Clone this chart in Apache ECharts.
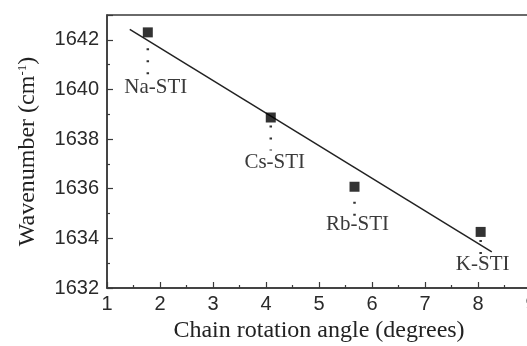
<!DOCTYPE html>
<html>
<head>
<meta charset="utf-8">
<script src="https://cdn.jsdelivr.net/npm/echarts@6/dist/echarts.min.js"></script>
<style>
  html, body { margin: 0; padding: 0; background: #fff; }
  #chart { width: 527px; height: 346px; }
</style>
</head>
<body>
<div id="chart"></div>
<script>
// measured points
const samples = ['Na-STI', 'Cs-STI', 'Rb-STI', 'K-STI']
const angle = [1.77, 4.09, 5.67, 8.05]
const wavenumber = [1642.3, 1638.87, 1636.08, 1634.26]

// linear fit, end points
const fitX = [1.43, 8.26]
const fitY = [1642.42, 1633.46]

// pixel offsets of the dotted leader and the label below each square
const annot = [
  { dotFrom: 16, dotTo: 43, dx: 8, dy: 55 },
  { dotFrom: 8, dotTo: 33, dx: 4, dy: 45 },
  { dotFrom: 15, dotTo: 29, dx: 3, dy: 38 },
  { dotFrom: 8, dotTo: 23, dx: 2, dy: 33 }
]

const axisColor = '#3a3a3a'
const chart = echarts.init(document.getElementById('chart'))

chart.setOption({
  animation: false,
  grid: {
    left: 107,
    top: 15,
    width: 424,
    height: 273,
    outerBoundsMode: 'none',
    show: true,
    borderColor: axisColor,
    borderWidth: 1.5
  },
  xAxis: {
    type: 'value',
    min: 1,
    max: 9,
    interval: 1,
    name: 'Chain rotation angle (degrees)',
    nameLocation: 'middle',
    nameGap: 31,
    nameTextStyle: { fontFamily: 'Liberation Serif', fontSize: 24, color: '#222' },
    axisLine: { lineStyle: { color: axisColor, width: 1.5 } },
    axisTick: { inside: true, length: 6, lineStyle: { color: axisColor, width: 1.2 } },
    minorTick: { show: true, splitNumber: 2, length: 3, lineStyle: { color: axisColor, width: 1.2 } },
    axisLabel: { fontFamily: 'Liberation Sans', fontSize: 20, color: '#2a2a2a', margin: 6 },
    splitLine: { show: false }
  },
  yAxis: {
    type: 'value',
    min: 1632,
    max: 1643,
    interval: 2,
    name: 'Wavenumber (cm{sup|-1})',
    nameLocation: 'middle',
    nameGap: 67,
    nameTextStyle: {
      fontFamily: 'Liberation Serif', fontSize: 24, color: '#222',
      rich: { sup: { fontFamily: 'Liberation Serif', fontSize: 13, color: '#222', verticalAlign: 'top', padding: [0, 0, 11, 0] } }
    },
    axisLine: { lineStyle: { color: axisColor, width: 1.5 } },
    axisTick: { inside: true, length: 6, lineStyle: { color: axisColor, width: 1.2 } },
    minorTick: { show: true, splitNumber: 2, length: 3, lineStyle: { color: axisColor, width: 1.2 } },
    axisLabel: {
      fontFamily: 'Liberation Sans', fontSize: 20, color: '#2a2a2a', margin: 8,
      showMaxLabel: false,
      formatter: v => String(v)
    },
    splitLine: { show: false }
  },
  series: [
    {
      type: 'line',
      data: fitX.map((x, i) => [x, fitY[i]]),
      symbol: 'none',
      lineStyle: { color: '#222', width: 1.5 },
      z: 2
    },
    {
      type: 'scatter',
      data: angle.map((x, i) => [x, wavenumber[i]]),
      symbol: 'rect',
      symbolSize: 10,
      itemStyle: { color: '#000' },
      z: 3
    },
    {
      type: 'custom',
      data: angle.map((x, i) => [x, wavenumber[i]]),
      renderItem: function (params, api) {
        const i = params.dataIndex
        const p = api.coord([api.value(0), api.value(1)])
        const a = annot[i]
        return {
          type: 'group',
          children: [
            {
              type: 'line',
              shape: { x1: p[0], y1: p[1] + a.dotFrom, x2: p[0], y2: p[1] + a.dotTo },
              style: { stroke: '#333', lineWidth: 2.5, lineDash: [2, 10] }
            },
            {
              type: 'text',
              x: p[0] + a.dx,
              y: p[1] + a.dy,
              style: {
                text: samples[i],
                font: '21px "Liberation Serif"',
                fill: '#3a3a3a',
                align: 'center',
                verticalAlign: 'middle'
              }
            }
          ]
        }
      },
      z: 4
    }
  ]
})
</script>
</body>
</html>
